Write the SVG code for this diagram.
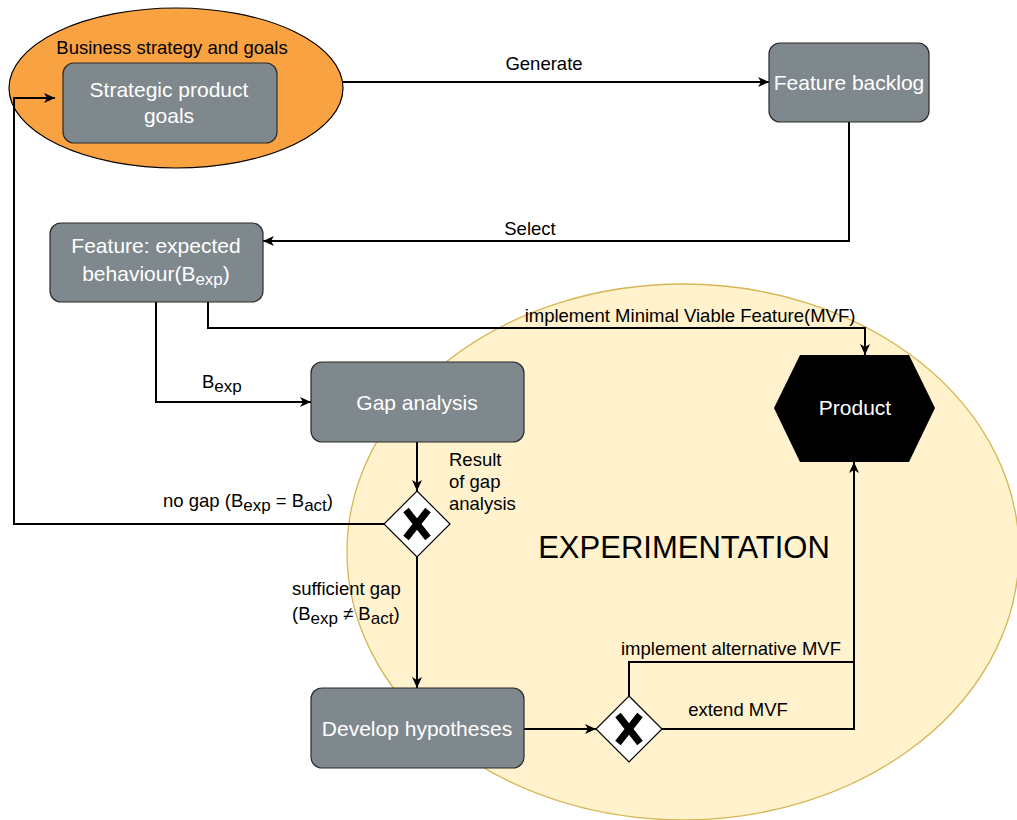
<svg xmlns="http://www.w3.org/2000/svg" width="1017" height="820" viewBox="0 0 1017 820">
  <style>
    .box { fill: #7f888d; stroke: #2b2b2b; stroke-width: 1.2; }
    .boxtext { font-family: "Liberation Sans", Arial, sans-serif; font-size: 21px; fill: #ffffff; text-anchor: middle; }
    .lbl { font-family: "Liberation Sans", Arial, sans-serif; font-size: 18.5px; fill: #000000; }
    .sub { font-size: 17px; }
    .edge { fill: none; stroke: #000000; stroke-width: 2; }
    .gw { fill: #ffffff; stroke: #000000; stroke-width: 1.2; }
    .gwx { stroke: #000000; stroke-width: 7; fill: none; }
  </style>
  <defs>
    <marker id="arrow" markerUnits="userSpaceOnUse" markerWidth="13" markerHeight="12" viewBox="0 0 13 12" refX="12" refY="6" orient="auto">
      <path d="M1,1 L12,6 L1,11 L4,6 Z" fill="#000000"/>
    </marker>
  </defs>

  <rect x="0" y="0" width="1017" height="820" fill="#ffffff"/>

  <!-- experimentation area -->
  <g id="experimentation">
    <ellipse cx="683" cy="552" rx="336" ry="268" fill="#fff2cc" stroke="#d6b656" stroke-width="1.3"/>
    <text x="684" y="558" font-family="Liberation Sans, Arial, sans-serif" font-size="31" text-anchor="middle" fill="#000000">EXPERIMENTATION</text>
  </g>

  <!-- business strategy container -->
  <g id="business-strategy">
    <ellipse cx="176" cy="88" rx="167" ry="80" fill="#f9a242" stroke="#000000" stroke-width="1.2"/>
    <text class="lbl" x="172" y="54" text-anchor="middle">Business strategy and goals</text>
  </g>

  <!-- connectors -->
  <g id="connectors">
    <path class="edge" d="M343,82 L769,82" marker-end="url(#arrow)"/>
    <path class="edge" d="M849,122 L849,241 L263,241" marker-end="url(#arrow)"/>
    <path class="edge" d="M156,302 L156,402 L311,402" marker-end="url(#arrow)"/>
    <path class="edge" d="M208,302 L208,328 L865,328 L865,355" marker-end="url(#arrow)"/>
    <path class="edge" d="M417,442 L417,491" marker-end="url(#arrow)"/>
    <path class="edge" d="M384,524 L14,524 L14,98 L55,98" marker-end="url(#arrow)"/>
    <path class="edge" d="M417,557 L417,688" marker-end="url(#arrow)"/>
    <path class="edge" d="M524,729 L596,729" marker-end="url(#arrow)"/>
    <path class="edge" d="M629,696 L629,662 L854,662 L854,462" marker-end="url(#arrow)"/>
    <path class="edge" d="M662,729 L854,729 L854,662"/>

    <text class="lbl" x="544" y="70" text-anchor="middle">Generate</text>
    <text class="lbl" x="530" y="235" text-anchor="middle">Select</text>
    <text class="lbl" x="202" y="388">B<tspan class="sub" dy="4">exp</tspan></text>
    <text class="lbl" x="690" y="322" text-anchor="middle">implement Minimal Viable Feature(MVF)</text>
    <text class="lbl" x="449" y="466">Result</text>
    <text class="lbl" x="449" y="488">of gap</text>
    <text class="lbl" x="449" y="510">analysis</text>
    <text class="lbl" x="333" y="507" text-anchor="end">no gap (B<tspan class="sub" dy="4">exp</tspan><tspan dy="-4"> = B</tspan><tspan class="sub" dy="4">act</tspan><tspan dy="-4">)</tspan></text>
    <text class="lbl" x="292" y="595">sufficient gap</text>
    <text class="lbl" x="292" y="620">(B<tspan class="sub" dy="4">exp</tspan><tspan dy="-4"> ≠ B</tspan><tspan class="sub" dy="4">act</tspan><tspan dy="-4">)</tspan></text>
    <text class="lbl" x="731" y="655" text-anchor="middle">implement alternative MVF</text>
    <text class="lbl" x="738" y="716" text-anchor="middle">extend MVF</text>
  </g>

  <g id="strategic-goals">
    <rect class="box" x="63" y="63" width="214" height="80" rx="11"/>
    <text class="boxtext" x="169" y="97">Strategic product</text>
    <text class="boxtext" x="169" y="123">goals</text>
  </g>

  <g id="feature-backlog">
    <rect class="box" x="769" y="43" width="160" height="79" rx="11"/>
    <text class="boxtext" x="849" y="90">Feature backlog</text>
  </g>

  <g id="feature-expected">
    <rect class="box" x="50" y="223" width="213" height="79" rx="11"/>
    <text class="boxtext" x="156" y="253">Feature: expected</text>
    <text class="boxtext" x="156" y="281">behaviour(B<tspan font-size="17" dy="4">exp</tspan><tspan dy="-4">)</tspan></text>
  </g>

  <g id="gap-analysis">
    <rect class="box" x="311" y="362" width="213" height="80" rx="11"/>
    <text class="boxtext" x="417" y="410">Gap analysis</text>
  </g>

  <g id="gateway-gap">
    <path class="gw" d="M417,491 L450,524 L417,557 L384,524 Z"/>
    <path class="gwx" d="M406,510 L428,538 M428,510 L406,538"/>
  </g>

  <g id="develop-hypotheses">
    <rect class="box" x="311" y="688" width="213" height="80" rx="11"/>
    <text class="boxtext" x="417" y="736">Develop hypotheses</text>
  </g>

  <g id="gateway-mvf">
    <path class="gw" d="M629,696 L662,729 L629,762 L596,729 Z"/>
    <path class="gwx" d="M618,715 L640,743 M640,715 L618,743"/>
  </g>

  <g id="product">
    <path d="M774,408 L800,355 L909,355 L935,408 L909,462 L800,462 Z" fill="#000000"/>
    <text class="boxtext" x="855" y="415">Product</text>
  </g>
</svg>
